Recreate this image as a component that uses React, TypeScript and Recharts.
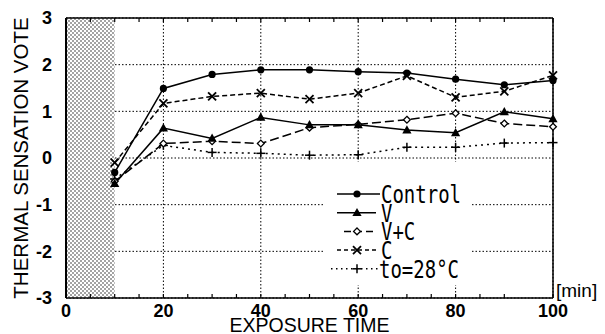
import React from 'react';
import { LineChart, Line, XAxis, YAxis, CartesianGrid, ReferenceArea, Legend } from 'recharts';

const times = [10, 20, 30, 40, 50, 60, 70, 80, 90, 100];
const controlVals = [-0.31, 1.49, 1.79, 1.89, 1.89, 1.85, 1.82, 1.69, 1.57, 1.66];
const vVals = [-0.55, 0.64, 0.42, 0.87, 0.71, 0.71, 0.6, 0.54, 0.99, 0.84];
const vcVals = [-0.5, 0.31, 0.36, 0.31, 0.65, 0.72, 0.82, 0.96, 0.74, 0.67];
const cVals = [-0.1, 1.17, 1.32, 1.39, 1.26, 1.39, 1.76, 1.3, 1.43, 1.77];
const toVals = [-0.45, 0.27, 0.12, 0.1, 0.06, 0.07, 0.23, 0.23, 0.32, 0.33];

const xTicks = [0, 20, 40, 60, 80, 100];
const yTicks = [-3, -2, -1, 0, 1, 2, 3];
const xMinorTicks = [0, 5, 10, 15, 20, 25, 30, 35, 40, 45, 50, 55, 60, 65, 70, 75, 80, 85, 90, 95, 100];
const yMinorTicks = [-3, -2.8, -2.6, -2.4, -2.2, -2, -1.8, -1.6, -1.4, -1.2, -1, -0.8, -0.6, -0.4, -0.2, 0, 0.2, 0.4, 0.6, 0.8, 1, 1.2, 1.4, 1.6, 1.8, 2, 2.2, 2.4, 2.6, 2.8, 3];

const legendLabels = ['Control', 'V', 'V+C', 'C', 'to=28°C'];

const data = times.map((t, i) => ({
  t,
  control: controlVals[i],
  v: vVals[i],
  vc: vcVals[i],
  c: cVals[i],
  to: toVals[i],
}));

const Circle = ({ cx, cy }: any) => <circle cx={cx} cy={cy} r={3.6} fill="#000" />;
const Tri = ({ cx, cy }: any) => (
  <polygon points={`${cx},${cy - 4.8} ${cx - 4.6},${cy + 3.4} ${cx + 4.6},${cy + 3.4}`} fill="#000" />
);
const Diamond = ({ cx, cy }: any) => (
  <polygon points={`${cx},${cy - 3.4} ${cx + 3.4},${cy} ${cx},${cy + 3.4} ${cx - 3.4},${cy}`} fill="#fff" stroke="#000" strokeWidth={1.3} />
);
const Cross = ({ cx, cy }: any) => (
  <g stroke="#000" strokeWidth={1.8}>
    <line x1={cx - 4} y1={cy - 4} x2={cx + 4} y2={cy + 4} />
    <line x1={cx - 4} y1={cy + 4} x2={cx + 4} y2={cy - 4} />
  </g>
);
const Plus = ({ cx, cy }: any) => (
  <g stroke="#000" strokeWidth={1.5}>
    <line x1={cx - 4.5} y1={cy} x2={cx + 4.5} y2={cy} />
    <line x1={cx} y1={cy - 4.5} x2={cx} y2={cy + 4.5} />
  </g>
);

const mk = (Comp: any) => (p: any) => <Comp key={`d-${p.index}`} cx={p.cx} cy={p.cy} />;

const series = [
  { key: 'to', dash: '2 4', Marker: Plus },
  { key: 'vc', dash: '9 4', Marker: Diamond },
  { key: 'c', dash: '5 3', Marker: Cross },
  { key: 'v', dash: undefined, Marker: Tri },
  { key: 'control', dash: undefined, Marker: Circle },
];

const legendRows = [
  { Marker: Circle, dash: undefined, x1: 12, x2: 55 },
  { Marker: Tri, dash: undefined, x1: 12, x2: 51 },
  { Marker: Diamond, dash: '7 4', x1: 19, x2: 48 },
  { Marker: Cross, dash: '4 3', x1: 12, x2: 53 },
  { Marker: Plus, dash: '1.5 3.5', x1: 6, x2: 53 },
];

const LegendContent = () => (
  <svg width={147} height={123} style={{ display: 'block' }}>
    {legendRows.map((r, i) => {
      const ly = 32 + i * 18.7;
      const M = r.Marker;
      return (
        <g key={i}>
          <line x1={r.x1} y1={ly} x2={r.x2} y2={ly} stroke="#000" strokeWidth={1.5} strokeDasharray={r.dash} />
          <M cx={32} cy={ly} />
          <text
            transform={`translate(${i === 4 ? 54 : 56},${ly + 9}) scale(1,1.3)`}
            fontFamily="DejaVu Sans Mono"
            fontSize={19}
            fill="#000"
          >
            {legendLabels[i]}
          </text>
        </g>
      );
    })}
  </svg>
);

const tickFont = { fontFamily: 'Liberation Sans, Arial, sans-serif', fontSize: 18, fontWeight: 700, fill: '#000' };
const emptyTick = () => <g />;

export default function App() {
  return (
    <div style={{ position: 'absolute', left: 0, top: 0, width: 605, height: 334, background: '#fff' }}>
      <LineChart width={605} height={334} data={data} margin={{ top: 18, right: 52, left: 0, bottom: 0 }}>
        <defs>
          <pattern id="hatch" width={4} height={4} patternUnits="userSpaceOnUse">
            <rect width={4} height={4} fill="#fff" />
            <circle cx={1} cy={1} r={0.7} fill="#000" />
            <circle cx={3} cy={3} r={0.7} fill="#000" />
          </pattern>
        </defs>
        <CartesianGrid stroke="#000" strokeDasharray="1.5 2" strokeWidth={1} />
        <XAxis
          dataKey="t"
          type="number"
          domain={[0, 100]}
          ticks={xTicks}
          height={36}
          tickSize={0}
          tickMargin={6}
          tickLine={false}
          axisLine={{ stroke: '#000', strokeWidth: 1.5 }}
          tick={tickFont}
          label={{
            value: 'EXPOSURE TIME',
            position: 'insideBottom',
            offset: 2,
            style: { fontFamily: 'Liberation Sans, Arial, sans-serif', fontSize: 19.5, fill: '#000' },
          }}
        />
        <XAxis
          xAxisId="b"
          dataKey="t"
          type="number"
          orientation="bottom"
          mirror
          domain={[0, 100]}
          ticks={xMinorTicks}
          tickSize={4}
          tick={emptyTick}
          tickLine={{ stroke: '#000', strokeWidth: 1.2 }}
          axisLine={false}
          label={{
            content: (p: any) => {
              const vb = p.viewBox || {};
              return (
                <text
                  x={(vb.x || 0) + (vb.width || 0) + 3}
                  y={(vb.y || 0) + (vb.height || 0) - 1}
                  fontFamily="Liberation Sans, Arial, sans-serif"
                  fontSize={19}
                  fill="#000"
                >
                  [min]
                </text>
              );
            },
          }}
        />
        <XAxis
          xAxisId="t"
          dataKey="t"
          type="number"
          orientation="top"
          mirror
          domain={[0, 100]}
          ticks={xMinorTicks}
          tickSize={4}
          tick={emptyTick}
          tickLine={{ stroke: '#000', strokeWidth: 1.2 }}
          axisLine={{ stroke: '#000', strokeWidth: 1.5 }}
        />
        <YAxis
          type="number"
          domain={[-3, 3]}
          ticks={yTicks}
          width={66}
          tickSize={0}
          tickMargin={14}
          tickLine={false}
          axisLine={{ stroke: '#000', strokeWidth: 2 }}
          tick={tickFont}
          label={{
            value: 'THERMAL SENSATION VOTE',
            angle: -90,
            position: 'insideLeft',
            offset: 21,
            style: { textAnchor: 'middle', fontFamily: 'Liberation Sans, Arial, sans-serif', fontSize: 20.5, fill: '#000' },
          }}
        />
        <YAxis
          yAxisId="r"
          type="number"
          orientation="right"
          mirror
          domain={[-3, 3]}
          ticks={yMinorTicks}
          tickSize={4}
          tick={emptyTick}
          tickLine={{ stroke: '#000', strokeWidth: 1.2 }}
          axisLine={{ stroke: '#000', strokeWidth: 1.5 }}
        />
        <ReferenceArea x1={0} x2={10} y1={-3} y2={3} fill="url(#hatch)" fillOpacity={1} stroke="none" />
        {series.map((s) => (
          <Line
            key={s.key}
            type="linear"
            dataKey={s.key}
            stroke="#000"
            strokeWidth={1.5}
            strokeDasharray={s.dash}
            dot={mk(s.Marker)}
            activeDot={false}
            legendType="none"
            isAnimationActive={false}
          />
        ))}
        <Legend
          layout="vertical"
          align="center"
          verticalAlign="middle"
          content={LegendContent}
          wrapperStyle={{ position: 'absolute', left: 325, top: 162, width: 147, height: 123, background: '#fff' }}
        />
      </LineChart>
    </div>
  );
}
